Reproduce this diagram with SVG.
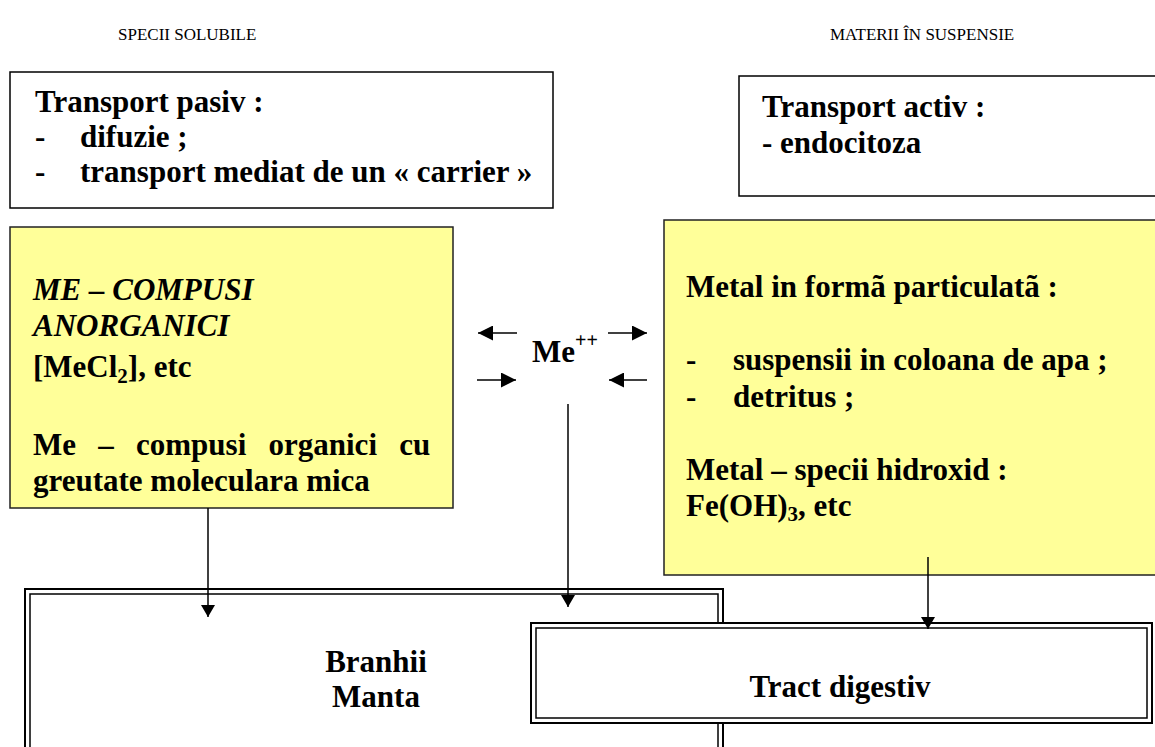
<svg xmlns="http://www.w3.org/2000/svg" width="1155" height="747" viewBox="0 0 1155 747">
<style>
.t{font-family:"Liberation Serif","Times New Roman",serif;font-weight:bold;font-size:31px;fill:#000}
.h{font-family:"Liberation Serif","Times New Roman",serif;font-size:17px;fill:#000}
.box{fill:#fff;stroke:#000;stroke-width:1.5}
.yel{fill:#FFFF99;stroke:#222;stroke-width:1.5}
.ln{stroke:#000;stroke-width:1.5;fill:none}
</style>
<defs>
<marker id="ah" markerWidth="12" markerHeight="14" refX="12" refY="7" orient="auto" markerUnits="userSpaceOnUse" viewBox="0 0 12 14">
<path d="M0,0 L12,7 L0,14 Z" fill="#000"/>
</marker>
<marker id="ah2" markerWidth="15" markerHeight="15" refX="15" refY="7.5" orient="auto" markerUnits="userSpaceOnUse" viewBox="0 0 15 15">
<path d="M0,0 L15,7.5 L0,15 Z" fill="#000"/>
</marker>
</defs>
<rect width="1155" height="747" fill="#fff"/>
<g id="hdr-left"><text class="h" x="118" y="40">SPECII SOLUBILE</text></g>
<g id="hdr-right"><text class="h" x="830" y="40">MATERII ÎN SUSPENSIE</text></g>

<g id="pasiv">
<rect class="box" x="10" y="72" width="543" height="136"/>
<text class="t" x="35" y="112">Transport pasiv :</text>
<text class="t" x="35" y="147">-</text><text class="t" x="80" y="147">difuzie ;</text>
<text class="t" x="35" y="182">-</text><text class="t" x="80" y="182">transport mediat de un « carrier »</text>
</g>

<g id="activ">
<rect class="box" x="739" y="76" width="430" height="120"/>
<text class="t" x="762" y="117">Transport activ :</text>
<text class="t" x="762" y="153">- endocitoza</text>
</g>

<g id="solubile">
<rect class="yel" x="10" y="227" width="443" height="281"/>
<text class="t" x="33" y="300" font-style="italic">ME – COMPUSI</text>
<text class="t" x="33" y="336" font-style="italic">ANORGANICI</text>
<text class="t" x="33" y="377">[MeCl<tspan font-size="21" dy="6">2</tspan><tspan dy="-6">], etc</tspan></text>
<text class="t" x="33" y="455" word-spacing="14.5">Me – compusi organici cu</text>
<text class="t" x="33" y="491">greutate moleculara mica</text>
</g>

<g id="particulat">
<rect class="yel" x="664" y="220" width="510" height="355"/>
<text class="t" x="686" y="297">Metal in formã particulatã :</text>
<text class="t" x="686" y="370">-</text><text class="t" x="733" y="370">suspensii in coloana de apa ;</text>
<text class="t" x="686" y="407">-</text><text class="t" x="733" y="407">detritus ;</text>
<text class="t" x="686" y="480">Metal – specii hidroxid :</text>
<text class="t" x="686" y="516">Fe(OH)<tspan font-size="21" dy="5">3</tspan><tspan dy="-5">, etc</tspan></text>
</g>

<g id="me">
<text class="t" x="532" y="362">Me<tspan font-size="20" dy="-15">++</tspan></text>
</g>

<g id="branhii">
<rect x="25" y="589" width="698" height="180" fill="none" stroke="#000" stroke-width="2"/>
<rect x="30" y="594" width="688" height="170" fill="none" stroke="#000" stroke-width="1.5"/>
<text class="t" x="376" y="672" text-anchor="middle">Branhii</text>
<text class="t" x="376" y="707" text-anchor="middle">Manta</text>
</g>

<g id="tract">
<rect x="531" y="623" width="621" height="100" fill="#fff" stroke="#000" stroke-width="2"/>
<rect x="536" y="628" width="611" height="90" fill="none" stroke="#000" stroke-width="1.5"/>
<text class="t" x="840" y="697" text-anchor="middle">Tract digestiv</text>
</g>

<g id="connectors">
<line class="ln" x1="517" y1="333" x2="478" y2="333" marker-end="url(#ah2)"/>
<line class="ln" x1="608" y1="333" x2="647" y2="333" marker-end="url(#ah2)"/>
<line class="ln" x1="477" y1="380" x2="516" y2="380" marker-end="url(#ah2)"/>
<line class="ln" x1="647" y1="380" x2="609" y2="380" marker-end="url(#ah2)"/>
<line class="ln" x1="208" y1="508" x2="208" y2="617" marker-end="url(#ah)"/>
<line class="ln" x1="568" y1="404" x2="568" y2="607" marker-end="url(#ah)"/>
<line class="ln" x1="928" y1="557" x2="928" y2="629" marker-end="url(#ah)"/>
</g>
</svg>
